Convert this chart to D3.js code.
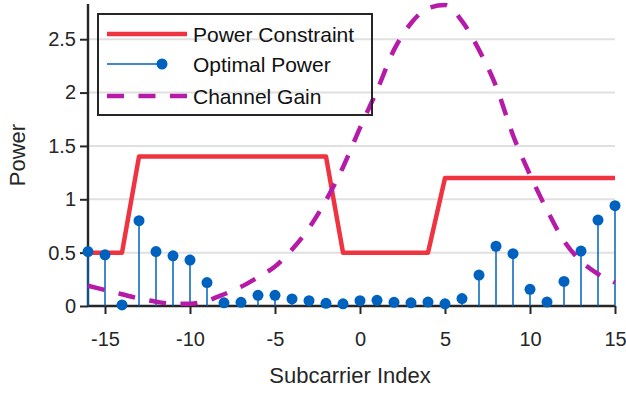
<!DOCTYPE html>
<html>
<head>
<meta charset="utf-8">
<style>
  body { margin: 0; background: #fff; }
  svg { display: block; font-family: 'Liberation Sans', Arial, sans-serif; }
</style>
</head>
<body>
<svg width="626" height="394"></svg>
<script src="https://d3js.org/d3.v7.min.js"></script>
<script>
// subcarrier indices -16 .. 15
const subcarriers = [-16,-15,-14,-13,-12,-11,-10,-9,-8,-7,-6,-5,-4,-3,-2,-1,0,1,2,3,4,5,6,7,8,9,10,11,12,13,14,15];

const powerConstraint = [0.5,0.5,0.5,1.4,1.4,1.4,1.4,1.4,1.4,1.4,1.4,1.4,1.4,1.4,1.4,0.5,
                         0.5,0.5,0.5,0.5,0.5,1.2,1.2,1.2,1.2,1.2,1.2,1.2,1.2,1.2,1.2,1.2];

const optimalPower = [0.51,0.48,0.01,0.80,0.51,0.47,0.43,0.22,0.03,0.035,0.10,0.10,0.066,0.05,0.025,0.02,
                      0.05,0.053,0.035,0.03,0.037,0.02,0.07,0.29,0.56,0.49,0.156,0.037,0.23,0.515,0.805,0.94];

const channelGain = [0.19,0.15,0.11,0.07,0.04,0.02,0.02,0.05,0.11,0.18,0.27,0.37,0.53,0.73,0.99,1.30,
                     1.67,2.02,2.40,2.65,2.79,2.82,2.67,2.40,2.06,1.60,1.23,0.90,0.61,0.42,0.30,0.22];

const xTicks = [-15,-10,-5,0,5,10,15];
const yTicks = [0,0.5,1,1.5,2,2.5];
const seriesNames = ["Power Constraint","Optimal Power","Channel Gain"];

const red = "#ef3340", blue = "#0062bf", magenta = "#b61aa8", axisCol = "#262626";

const svg = d3.select("svg");

let x = d3.scaleLinear().domain([-16, 15]).range([88, 615]);
let y = d3.scaleLinear().domain([0, 2.83]).range([306, 4]);

// grid
svg.append("g")
  .selectAll("line")
  .data(yTicks.filter(d => d > 0))
  .join("line")
  .attr("x1", x(-16)).attr("x2", x(15))
  .attr("y1", d => y(d)).attr("y2", d => y(d))
  .style("stroke", "#e0e0e0")
  .style("stroke-width", 2);

// axes
let xAxis = svg.append("g")
  .attr("transform", `translate(0,${y(0)})`)
  .call(d3.axisBottom(x).tickValues(xTicks).tickSize(8).tickPadding(18).tickFormat(d3.format("d")));
let yAxis = svg.append("g")
  .attr("transform", `translate(${x(-16)},0)`)
  .call(d3.axisLeft(y).tickValues(yTicks).tickSize(8).tickPadding(4).tickFormat(d => d));

[xAxis, yAxis].forEach(a => {
  a.select(".domain").attr("stroke", axisCol).attr("stroke-width", 2.4);
  a.selectAll(".tick line").attr("stroke", axisCol).attr("stroke-width", 2);
  a.selectAll(".tick text").attr("fill", axisCol).style("font-size", "20px");
});
xAxis.select(".domain").attr("d", `M${x(-16)},0H${x(15)}`);
yAxis.select(".domain").attr("d", `M0,${y(0)}V${y(2.83)}`);
xAxis.selectAll(".tick text").text(d => d < 0 ? "-" + Math.abs(d) : d);

// axis labels
svg.append("text")
  .attr("x", 350).attr("y", 383)
  .attr("text-anchor", "middle")
  .style("font-size", "22px").style("fill", axisCol)
  .text("Subcarrier Index");
svg.append("text")
  .attr("transform", "translate(25,155) rotate(-90)")
  .attr("text-anchor", "middle")
  .style("font-size", "22px").style("fill", axisCol)
  .text("Power");

// power constraint
svg.append("path")
  .datum(subcarriers)
  .attr("d", d3.line().x(d => x(d)).y((d, i) => y(powerConstraint[i])))
  .style("fill", "none")
  .style("stroke", red)
  .style("stroke-width", 4.5)
  .style("stroke-linejoin", "round");

// optimal power stems
svg.append("g")
  .selectAll("line")
  .data(subcarriers)
  .join("line")
  .attr("x1", d => x(d)).attr("x2", d => x(d))
  .attr("y1", y(0)).attr("y2", (d, i) => y(optimalPower[i]))
  .style("stroke", blue)
  .style("stroke-width", 1.5);
svg.append("g")
  .selectAll("circle")
  .data(subcarriers)
  .join("circle")
  .attr("cx", d => x(d))
  .attr("cy", (d, i) => y(optimalPower[i]))
  .attr("r", 5.5)
  .style("fill", blue);

// channel gain
svg.append("path")
  .datum(subcarriers)
  .attr("d", d3.line().curve(d3.curveMonotoneX).x(d => x(d)).y((d, i) => y(channelGain[i])))
  .style("fill", "none")
  .style("stroke", magenta)
  .style("stroke-width", 4.5)
  .style("stroke-dasharray", "17,14.5");

// legend
let legend = svg.append("g");
legend.append("rect")
  .attr("x", 98).attr("y", 14)
  .attr("width", 274).attr("height", 101)
  .style("fill", "none")
  .style("stroke", axisCol)
  .style("stroke-width", 2);

let rowY = [34, 64, 96];
seriesNames.forEach((name, i) => {
  let g = legend.append("g");
  if (i === 0) {
    g.append("line").attr("x1", 107).attr("x2", 187).attr("y1", rowY[i]).attr("y2", rowY[i])
      .style("stroke", red).style("stroke-width", 4.5);
  } else if (i === 1) {
    g.append("line").attr("x1", 107).attr("x2", 162).attr("y1", rowY[i]).attr("y2", rowY[i])
      .style("stroke", blue).style("stroke-width", 1.5);
    g.append("circle").attr("cx", 162).attr("cy", rowY[i]).attr("r", 5.5).style("fill", blue);
  } else {
    g.append("line").attr("x1", 107).attr("x2", 187).attr("y1", rowY[i]).attr("y2", rowY[i])
      .style("stroke", magenta).style("stroke-width", 4.5).style("stroke-dasharray", "17,14.5");
  }
  g.append("text")
    .attr("x", 193).attr("y", rowY[i] + 8)
    .style("font-size", "21px").style("fill", "#111")
    .text(name);
});
</script>
</body>
</html>
